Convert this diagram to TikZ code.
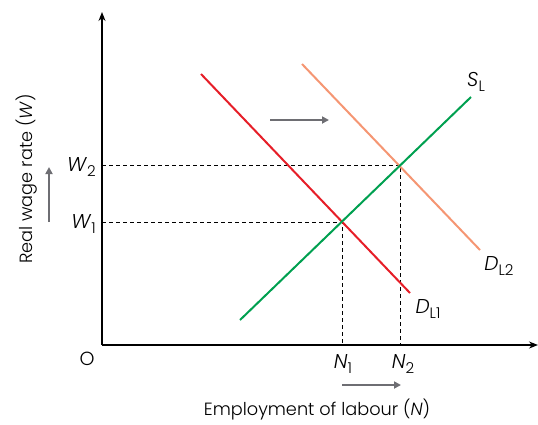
\documentclass[tikz,border=0pt]{standalone}
\usepackage{fontspec}
\setmainfont{Poppins}[UprightFont=* Light, ItalicFont=* Light Italic]
\usetikzlibrary{arrows.meta}
\definecolor{dred}{RGB}{230,30,40}
\definecolor{salmon}{RGB}{245,150,115}
\definecolor{sgreen}{RGB}{0,160,80}
\definecolor{agray}{RGB}{110,110,115}
\newcommand{\vsym}[2]{{\fontsize{20}{22}\selectfont\textit{#1}}\raisebox{-0.55ex}{\fontsize{15}{17}\selectfont #2}}
\begin{document}
\begin{tikzpicture}[x=1pt,y=-1pt,
  axis/.style={line width=1.3pt,-{Stealth[length=9pt,width=7pt]}},
  curve/.style={line width=2pt},
  guide/.style={dashed,line width=0.8pt,dash pattern=on 4pt off 3pt},
  shiftarrow/.style={agray,line width=1.8pt,-{Triangle[length=7pt,width=7pt]}},
  lbl/.style={font=\fontsize{17.7}{20}\selectfont,inner sep=0pt}]
\useasboundingbox (0,0) rectangle (538,424);
\coordinate (O) at (102,345);
\coordinate (ytop) at (102,12);
\coordinate (xend) at (538,345);
\draw[axis] (O) -- (ytop);
\draw[axis] (O) -- (xend);
% guides
\coordinate (E1) at (342,222);
\coordinate (E2) at (400,165);
\coordinate (W1p) at (102,222);
\coordinate (W2p) at (102,165);
\coordinate (N1p) at (342,345);
\coordinate (N2p) at (400,345);
\draw[guide] (W1p) -- (E1) -- (N1p);
\draw[guide] (W2p) -- (E2) -- (N2p);
% curves
\coordinate (d1a) at (201,74); \coordinate (d1b) at (410,293);
\coordinate (d2a) at (302,64); \coordinate (d2b) at (480,250);
\coordinate (sa) at (240,320); \coordinate (sb) at (471,97);
\draw[curve,salmon] (d2a) -- (d2b);
\draw[curve,dred] (d1a) -- (d1b);
\draw[curve,sgreen] (sa) -- (sb);
% shift arrows
\coordinate (a1) at (270,120); \coordinate (a2) at (329,120);
\draw[shiftarrow] (a1) -- (a2);
\coordinate (b1) at (49,222); \coordinate (b2) at (49,167);
\draw[shiftarrow] (b1) -- (b2);
\coordinate (c1) at (342,385); \coordinate (c2) at (401,385);
\draw[shiftarrow] (c1) -- (c2);
% labels
\node[lbl,anchor=east] (lw2) at (96,167) {\vsym{W}{2}};
\node[lbl,anchor=east] (lw1) at (96,224) {\vsym{W}{1}};
\node[lbl] (lo) at (87,359) {\fontsize{19}{21}\selectfont O};
\node[lbl] (ln1) at (343,364) {\vsym{N}{1}};
\node[lbl] (ln2) at (403,364) {\vsym{N}{2}};
\node[lbl] (ld1) at (428,309) {\vsym{D}{L1}};
\node[lbl] (ld2) at (499,266) {\vsym{D}{L2}};
\node[lbl] (ls) at (476,82) {\vsym{S}{L}};
\node[lbl] (xl) at (317,410) {Employment of labour (\textit{N})};
\node[lbl,rotate=90] (yl) at (27,179) {Real wage rate (\textit{W})};
\end{tikzpicture}
\end{document}
